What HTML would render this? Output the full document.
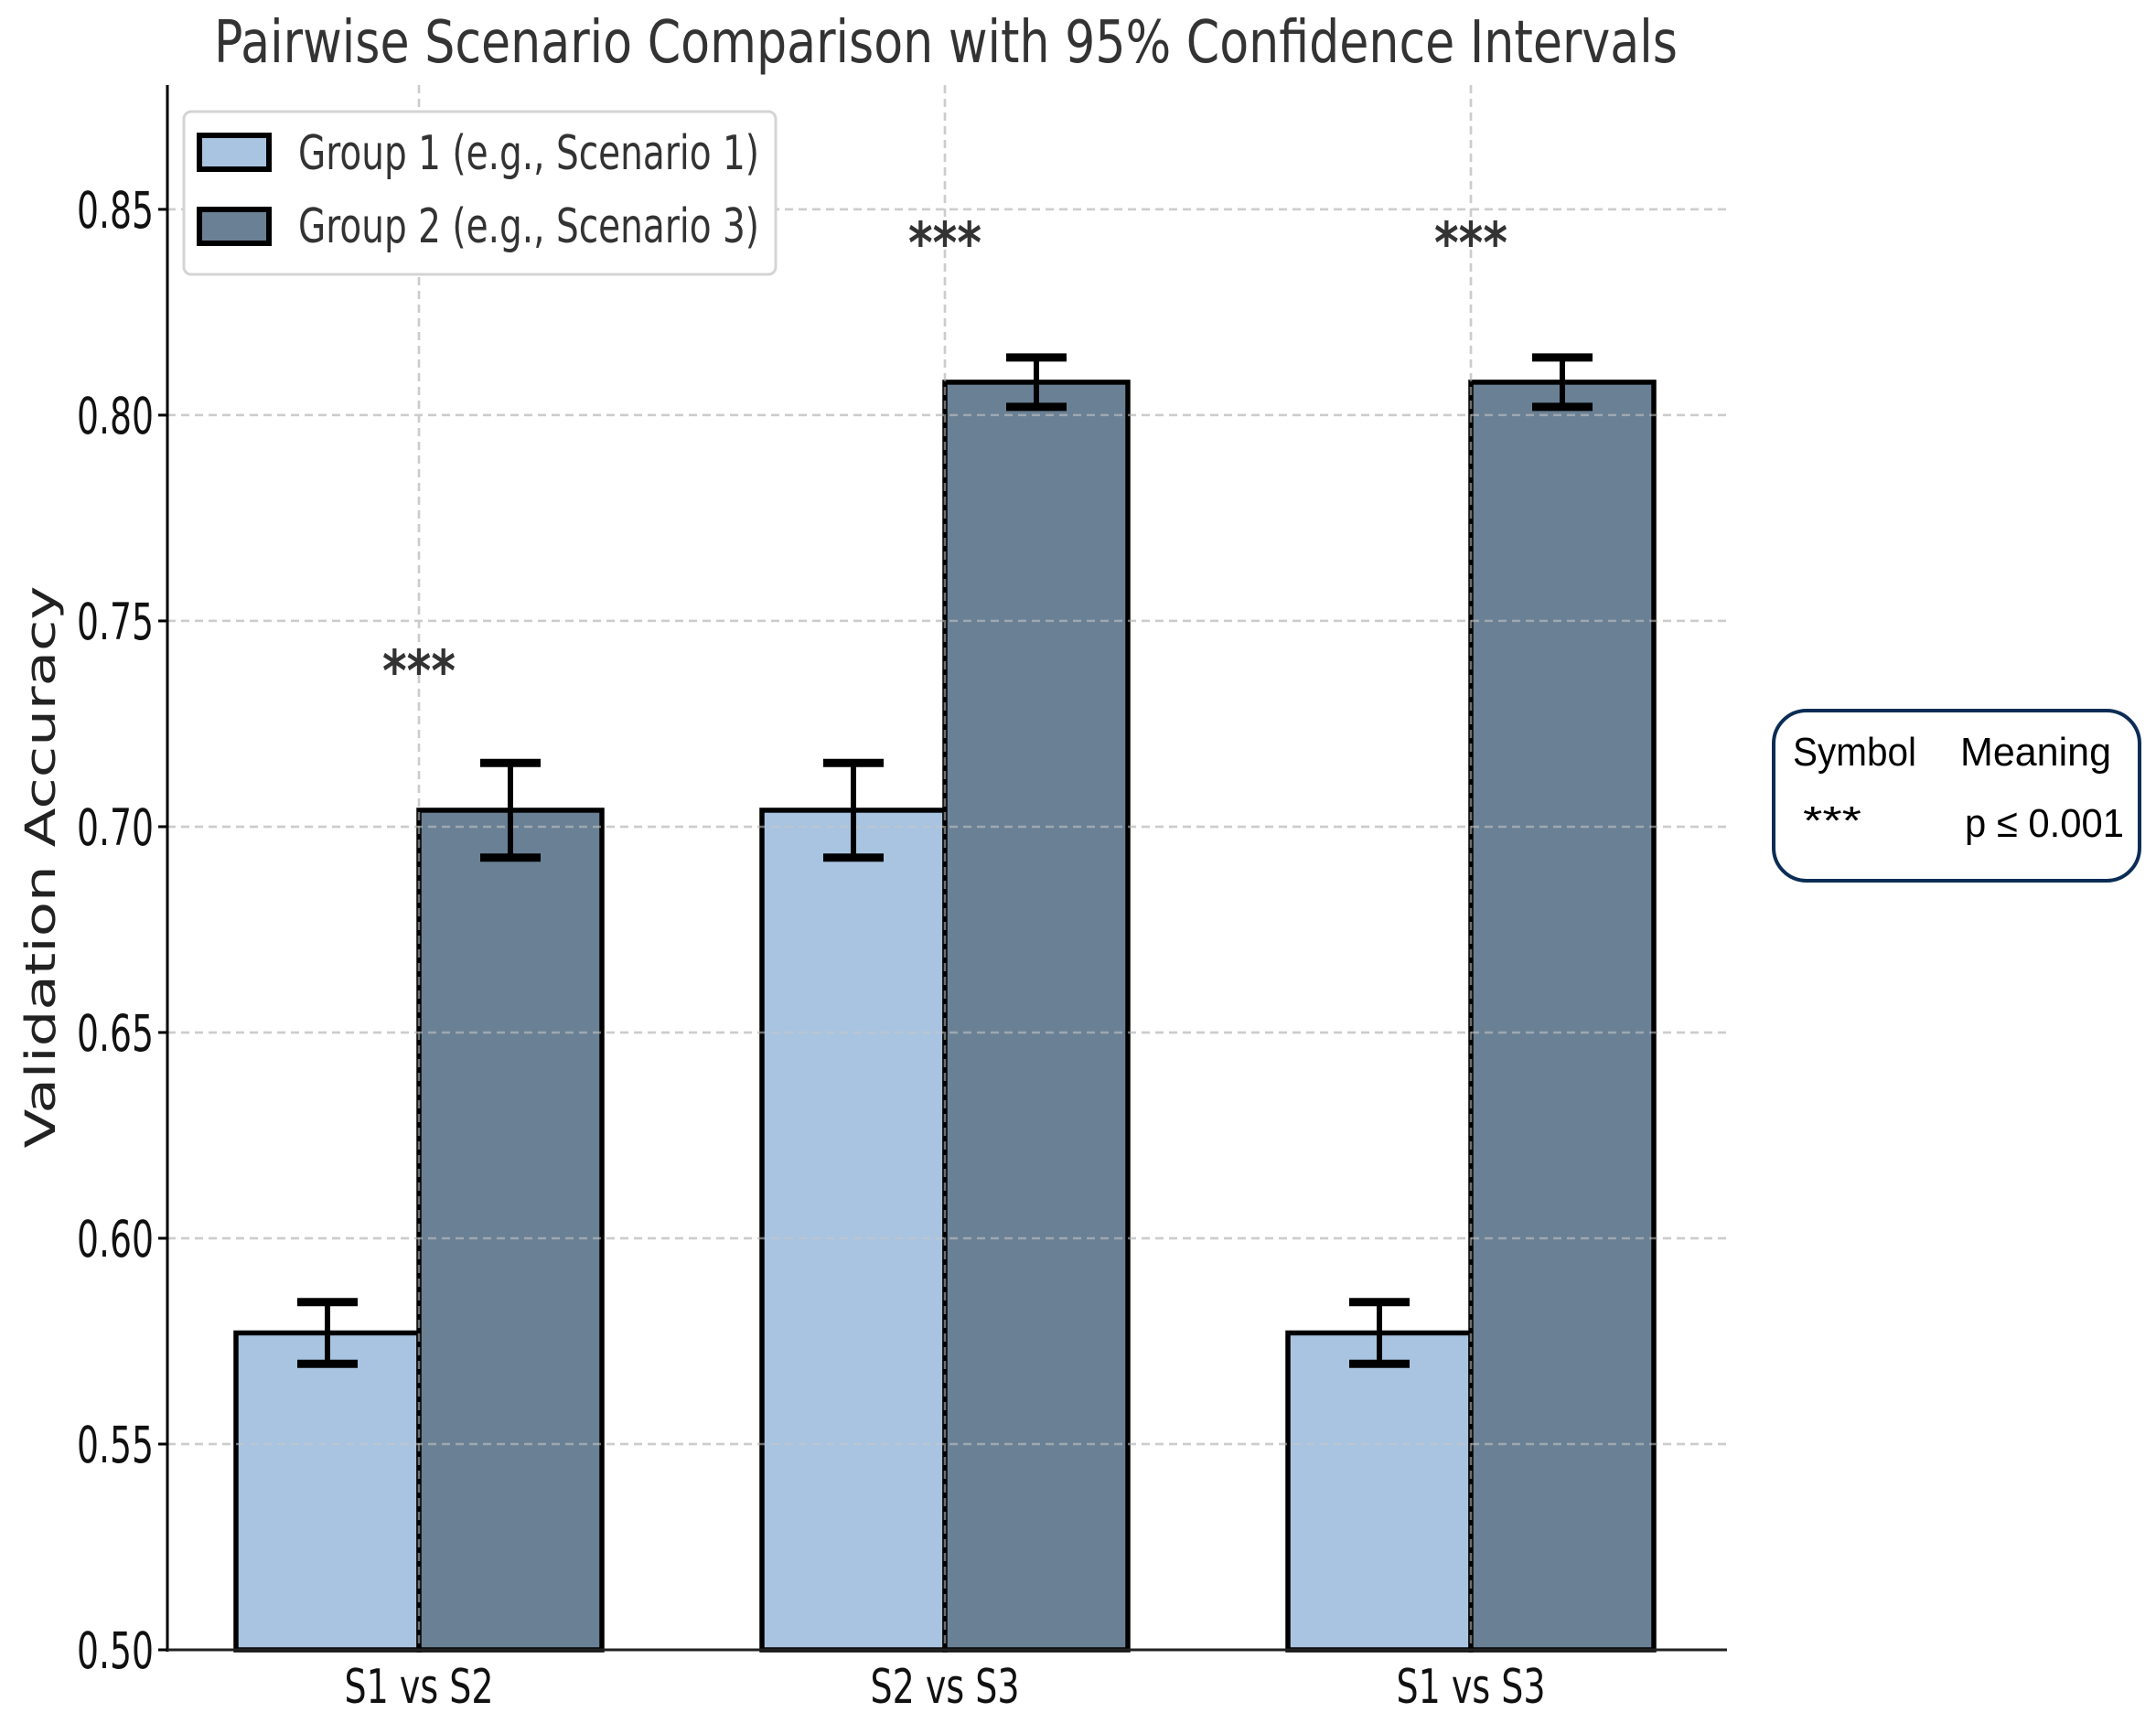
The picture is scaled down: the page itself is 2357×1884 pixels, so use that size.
<!DOCTYPE html>
<html><head><meta charset="utf-8"><style>
html,body{margin:0;padding:0;background:#fff;}
svg{display:block;}
</style></head><body>
<svg id="chart" width="2357" height="1884" viewBox="0 0 2357 1884" xmlns="http://www.w3.org/2000/svg">
<g id="grid"></g>
<g id="bars"></g>
<g id="gridTop"></g>
<g id="errs"></g>
<g id="axes"></g>
<g id="stars"></g>
<text x="1034" y="68" text-anchor="middle" font-family="DejaVu Sans, sans-serif" font-size="64" fill="#333" textLength="1600" lengthAdjust="spacingAndGlyphs">Pairwise Scenario Comparison with 95% Confidence Intervals</text>
<text transform="translate(60,948) rotate(-90)" text-anchor="middle" font-family="DejaVu Sans, sans-serif" font-size="45" fill="#222" textLength="615" lengthAdjust="spacingAndGlyphs">Validation Accuracy</text>
<g>
<rect x="201" y="122" width="647" height="178" rx="8" fill="#fff" stroke="#d4d4d4" stroke-width="3"/>
<rect x="218" y="148" width="76" height="37" fill="#a9c4e0" stroke="#000" stroke-width="6"/>
<text x="326" y="185" font-family="DejaVu Sans, sans-serif" font-size="52" fill="#333" textLength="504" lengthAdjust="spacingAndGlyphs">Group 1 (e.g., Scenario 1)</text>
<rect x="218" y="229" width="76" height="37" fill="#6a8094" stroke="#000" stroke-width="6"/>
<text x="326" y="265" font-family="DejaVu Sans, sans-serif" font-size="52" fill="#333" textLength="504" lengthAdjust="spacingAndGlyphs">Group 2 (e.g., Scenario 3)</text>
</g>
<g>
<rect x="1939" y="777" width="400" height="186" rx="36" fill="#fff" stroke="#0b2d55" stroke-width="4"/>
<text x="1960" y="837" font-family="Liberation Sans, sans-serif" font-size="44" fill="#000" textLength="135" lengthAdjust="spacingAndGlyphs">Symbol</text>
<text x="2143" y="837" font-family="Liberation Sans, sans-serif" font-size="44" fill="#000" textLength="165" lengthAdjust="spacingAndGlyphs">Meaning</text>
<text x="1971" y="912" font-family="Liberation Sans, sans-serif" font-size="44" fill="#000" textLength="64" lengthAdjust="spacingAndGlyphs">***</text>
<text x="2148" y="915" font-family="Liberation Sans, sans-serif" font-size="44" fill="#000" textLength="174" lengthAdjust="spacingAndGlyphs">p ≤ 0.001</text>
</g>
</svg>
<script>
const categories = ["S1 vs S2", "S2 vs S3", "S1 vs S3"];
const group1Values = [0.577, 0.704, 0.577];
const group1Err = [0.0075, 0.0115, 0.0075];
const group2Values = [0.704, 0.808, 0.808];
const group2Err = [0.0115, 0.006, 0.006];
const significance = ["***", "***", "***"];
const starLevels = [0.733, 0.837, 0.837];
const yTicks = [0.50, 0.55, 0.60, 0.65, 0.70, 0.75, 0.80, 0.85];
const yTickLabels = ["0.50", "0.55", "0.60", "0.65", "0.70", "0.75", "0.80", "0.85"];

const NS = "http://www.w3.org/2000/svg";
const yMin = 0.5, yMax = 0.8802;
const plotTop = 93, plotBottom = 1804, plotLeft = 183, plotRight = 1888;
function yScale(v){ return plotBottom - (v - yMin) / (yMax - yMin) * (plotBottom - plotTop); }
const cat0 = 458, catStep = 575, barW = 200;
function xScale(i){ return cat0 + i * catStep; }
function mk(tag, attrs, parent){
  const e = document.createElementNS(NS, tag);
  for (const k in attrs) e.setAttribute(k, attrs[k]);
  parent.appendChild(e); return e;
}
const grid = document.getElementById('grid');
const gridTop = document.getElementById('gridTop');
const bars = document.getElementById('bars');
const errs = document.getElementById('errs');
const axes = document.getElementById('axes');
const stars = document.getElementById('stars');

[grid, gridTop].forEach(function(g, gi){
  yTicks.forEach(function(t){
    const l = mk('line', {x1: plotLeft, x2: plotRight, y1: yScale(t), y2: yScale(t), stroke: gi ? 'rgba(200,200,200,0.55)' : '#d0d0d0', 'stroke-width': 2.5, 'stroke-dasharray': '9,6'}, g);
    
    
  });
  categories.forEach(function(c, i){
    const l = mk('line', {x1: xScale(i), x2: xScale(i), y1: plotTop, y2: plotBottom, stroke: gi ? 'rgba(200,200,200,0.55)' : '#d0d0d0', 'stroke-width': 2.5, 'stroke-dasharray': '9,6'}, g);
    
    
  });
});

function drawBar(i, v, err, x0, color, name){
  const r = mk('rect', {x: x0, y: yScale(v), width: barW, height: plotBottom - yScale(v), fill: color, stroke: '#000', 'stroke-width': 5.5}, bars);
  
  
  const cx = x0 + barW / 2;
  const g = mk('g', {}, errs);
  
  
  mk('line', {x1: cx, x2: cx, y1: yScale(v + err), y2: yScale(v - err), stroke: '#000', 'stroke-width': 6}, g);
  mk('line', {x1: cx - 33, x2: cx + 33, y1: yScale(v + err), y2: yScale(v + err), stroke: '#000', 'stroke-width': 9}, g);
  mk('line', {x1: cx - 33, x2: cx + 33, y1: yScale(v - err), y2: yScale(v - err), stroke: '#000', 'stroke-width': 9}, g);
}
categories.forEach(function(c, i){
  drawBar(i, group1Values[i], group1Err[i], xScale(i) - barW, '#a9c4e0', 'bar-group1-' + (i + 1));
  drawBar(i, group2Values[i], group2Err[i], xScale(i), '#6a8094', 'bar-group2-' + (i + 1));
  const s = mk('text', {x: xScale(i), y: yScale(starLevels[i]), 'text-anchor': 'middle', 'font-family': 'DejaVu Sans, sans-serif', 'font-size': 62, 'font-weight': 'bold', fill: '#333', textLength: 80, lengthAdjust: 'spacingAndGlyphs'}, stars);
  s.textContent = significance[i];
  
  
  const t = mk('text', {x: xScale(i), y: 1862, 'text-anchor': 'middle', 'font-family': 'DejaVu Sans, sans-serif', 'font-size': 52, fill: '#111', textLength: 163, lengthAdjust: 'spacingAndGlyphs'}, axes);
  t.textContent = c;
  
  
});

const ya = mk('line', {x1: plotLeft, x2: plotLeft, y1: plotTop, y2: plotBottom + 2, stroke: '#000', 'stroke-width': 3}, axes);


const xa = mk('line', {x1: plotLeft, x2: plotRight, y1: plotBottom, y2: plotBottom, stroke: '#222', 'stroke-width': 3}, axes);


yTicks.forEach(function(t, k){
  const tk = mk('line', {x1: plotLeft - 10, x2: plotLeft, y1: yScale(t), y2: yScale(t), stroke: '#000', 'stroke-width': 3}, axes);
  
  
  const lb = mk('text', {x: 168, y: yScale(t) + 20, 'text-anchor': 'end', 'font-family': 'DejaVu Sans, sans-serif', 'font-size': 55, fill: '#111', textLength: 84, lengthAdjust: 'spacingAndGlyphs'}, axes);
  lb.textContent = yTickLabels[k];
  
  
});
</script>
</body></html>
